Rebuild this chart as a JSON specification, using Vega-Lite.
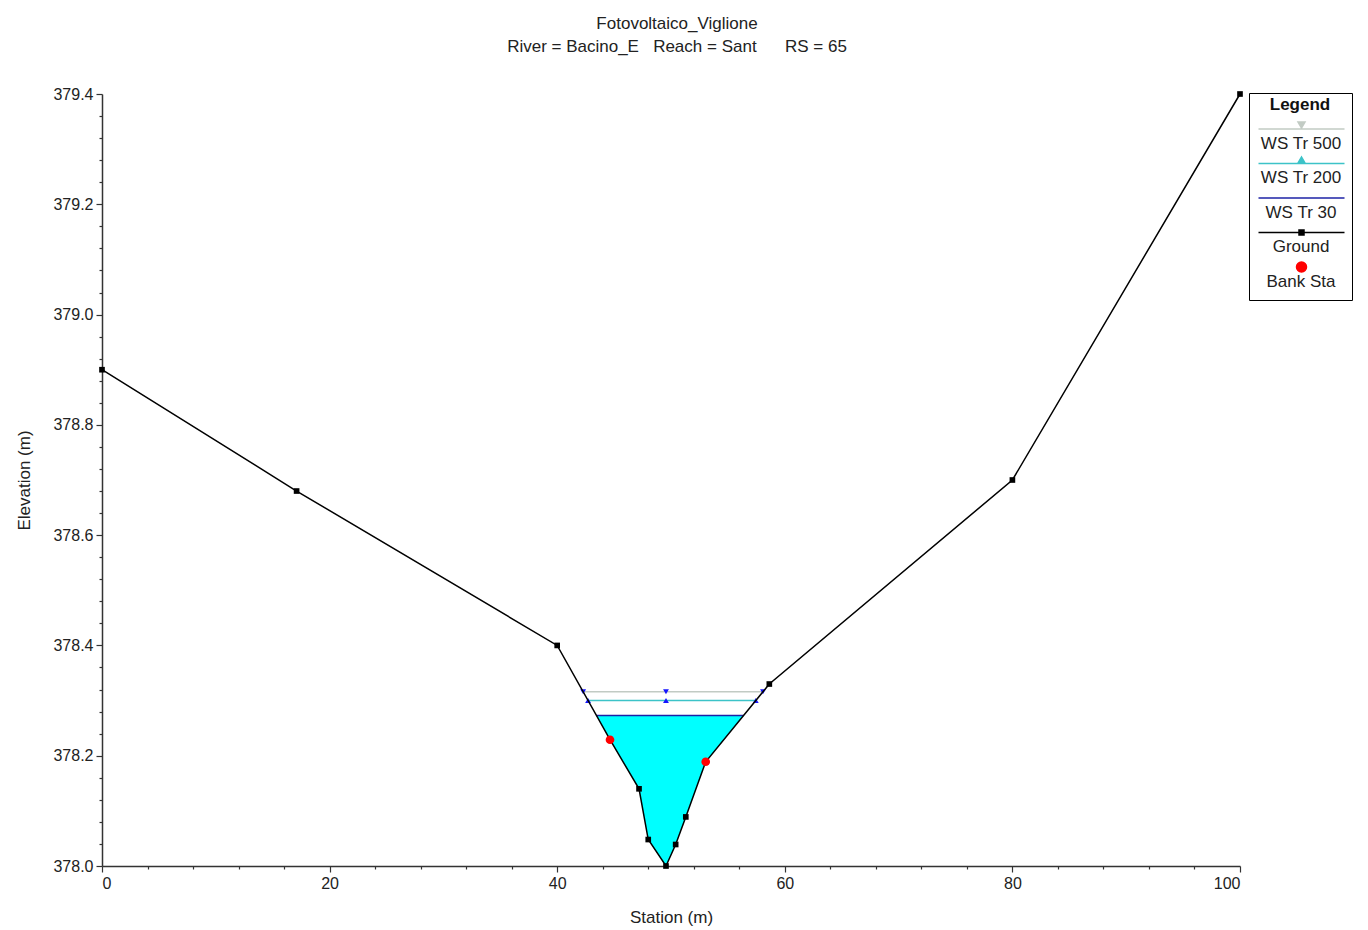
{
  "$schema": "https://vega.github.io/schema/vega-lite/v6.json",
  "width": 1138,
  "height": 772,
  "autosize": {"type": "none"},
  "padding": {"left": 102, "top": 94, "right": 128, "bottom": 64},
  "background": "white",
  "title": {
    "text": ["Fotovoltaico_Viglione", "River = Bacino_E\u00a0\u00a0\u00a0Reach = Sant\u00a0\u00a0\u00a0\u00a0\u00a0\u00a0RS = 65"],
    "fontSize": 17,
    "fontWeight": "normal",
    "font": "Liberation Sans",
    "color": "#222",
    "lineHeight": 23,
    "anchor": "middle",
    "dx": 6,
    "offset": 30
  },
  "config": {
    "view": {"stroke": null},
    "font": "Liberation Sans",
    "axis": {
      "labelFont": "Liberation Sans",
      "titleFont": "Liberation Sans",
      "labelFontSize": 16,
      "titleFontSize": 17,
      "titleFontWeight": "normal",
      "labelColor": "#222",
      "titleColor": "#222",
      "domainColor": "#333",
      "domainWidth": 1.5,
      "tickColor": "#333",
      "tickWidth": 1.2,
      "labelOverlap": false,
      "grid": false
    }
  },
  "resolve": {"axis": {"y": "independent"}},
  "datasets": {
    "ground": [
      {"station": 0, "elev": 378.90},
      {"station": 17.1, "elev": 378.68},
      {"station": 40.0, "elev": 378.40},
      {"station": 44.64, "elev": 378.229},
      {"station": 47.19, "elev": 378.14},
      {"station": 48.0, "elev": 378.048},
      {"station": 49.56, "elev": 378.0},
      {"station": 50.41, "elev": 378.039},
      {"station": 51.3, "elev": 378.089},
      {"station": 53.05, "elev": 378.189},
      {"station": 58.64, "elev": 378.33},
      {"station": 80.0, "elev": 378.70},
      {"station": 100.0, "elev": 379.40}
    ],
    "bank": [
      {"station": 44.64, "elev": 378.229},
      {"station": 53.05, "elev": 378.189}
    ],
    "water": [
      {"station": 43.45, "ws": 378.273, "ground": 378.273},
      {"station": 44.64, "ws": 378.273, "ground": 378.229},
      {"station": 47.19, "ws": 378.273, "ground": 378.14},
      {"station": 48.0, "ws": 378.273, "ground": 378.048},
      {"station": 49.56, "ws": 378.273, "ground": 378.0},
      {"station": 50.41, "ws": 378.273, "ground": 378.039},
      {"station": 51.3, "ws": 378.273, "ground": 378.089},
      {"station": 53.05, "ws": 378.273, "ground": 378.189},
      {"station": 56.38, "ws": 378.273, "ground": 378.273}
    ],
    "ws": [
      {"series": "WS Tr 500", "station": 42.28, "elev": 378.316},
      {"series": "WS Tr 500", "station": 49.56, "elev": 378.316},
      {"series": "WS Tr 500", "station": 58.08, "elev": 378.316},
      {"series": "WS Tr 200", "station": 42.71, "elev": 378.300},
      {"series": "WS Tr 200", "station": 49.56, "elev": 378.300},
      {"series": "WS Tr 200", "station": 57.45, "elev": 378.300},
      {"series": "WS Tr 30", "station": 43.45, "elev": 378.273},
      {"series": "WS Tr 30", "station": 56.38, "elev": 378.273}
    ]
  },
  "layer": [
    {
      "data": {"name": "water"},
      "mark": {"type": "area", "color": "#00ffff", "opacity": 1},
      "encoding": {
        "x": {"field": "station", "type": "quantitative", "scale": {"domain": [0, 100], "nice": false},
          "axis": {
            "title": "Station (m)",
            "values": [0,4,8,12,16,20,24,28,32,36,40,44,48,52,56,60,64,68,72,76,80,84,88,92,96,100],
            "labelExpr": "datum.value % 20 === 0 ? datum.label : ''",
            "tickSize": {"condition": {"test": "datum.value % 20 === 0", "value": 6}, "value": 3},
            "labelOverlap": false,
            "labelPadding": 3,
            "titlePadding": 18
          }
        },
        "y": {"field": "ws", "type": "quantitative", "scale": {"domain": [378, 379.4], "zero": false, "nice": false},
          "axis": {
            "orient": "left",
            "title": "Elevation (m)",
            "values": [378.0, 378.2, 378.4, 378.6, 378.8, 379.0, 379.2, 379.4],
            "format": ".1f",
            "tickSize": 6,
            "labelOverlap": false,
            "labelPadding": 3,
            "titlePadding": 19
          }
        },
        "y2": {"field": "ground"}
      }
    },
    {
      "data": {"name": "ws"},
      "mark": {"type": "line", "strokeWidth": 1.5},
      "encoding": {
        "x": {"field": "station", "type": "quantitative"},
        "y": {"field": "elev", "type": "quantitative",
          "axis": {
            "orient": "left",
            "title": null,
            "values": [378.04,378.08,378.12,378.16,378.24,378.28,378.32,378.36,378.44,378.48,378.52,378.56,378.64,378.68,378.72,378.76,378.84,378.88,378.92,378.96,379.04,379.08,379.12,379.16,379.24,379.28,379.32,379.36],
            "labels": false,
            "domain": false,
            "tickSize": 3
          }
        },
        "detail": {"field": "series"},
        "color": {
          "field": "series",
          "type": "nominal",
          "scale": {
            "domain": ["WS Tr 500", "WS Tr 200", "WS Tr 30", "Ground", "Bank Sta"],
            "range": ["#c2cbc4", "#3cc3c8", "#1c22a6", "#000000", "#ff0000"]
          },
          "legend": {
            "orient": "none",
            "legendX": 1147,
            "legendY": -1,
            "title": "Legend",
            "titleFont": "Liberation Sans",
            "titleFontSize": 17,
            "titleFontWeight": "bold",
            "titleColor": "#111",
            "titleAnchor": "middle",
            "titleAlign": "center",
            "titlePadding": 13,
            "strokeColor": "#000",
            "fillColor": "white",
            "padding": 4,
            "symbolSize": 100,
            "symbolStrokeWidth": 1.5,
            "labelFont": "Liberation Sans",
            "labelFontSize": 17,
            "labelColor": "#222",
            "labelAlign": "center",
            "labelBaseline": "top",
            "labelOffset": 31,
            "rowPadding": 0.5,
            "encode": {
              "symbols": {
                "update": {
                  "shape": {"signal": "datum.value === 'WS Tr 500' ? 'M8,-2.8M-0.6,-1.3H16.6M7.3,-2.7H8.7L8,-1.5Z' : datum.value === 'WS Tr 200' ? 'M8,-2.8M-0.6,-1.3H16.6M7.3,-1.4H8.7L8,-2.6Z' : datum.value === 'WS Tr 30' ? 'M8,-2.8M-0.6,-1.3H16.6' : datum.value === 'Ground' ? 'M8,-2.8M-0.6,-1.3H16.6M7.5,-1.8H8.5V-0.8H7.5Z' : 'M8,-2.8M8,3.9M9,-1.3A1,1 0 1,1 7,-1.3A1,1 0 1,1 9,-1.3Z'"},
                  "fill": {"signal": "datum.value === 'Ground' ? '#000' : datum.value === 'Bank Sta' ? '#ff0000' : '#1515ff'"},
                  "stroke": {"signal": "datum.value === 'WS Tr 500' ? '#c2cbc4' : datum.value === 'WS Tr 200' ? '#3cc3c8' : datum.value === 'WS Tr 30' ? '#1c22a6' : datum.value === 'Ground' ? '#000' : '#ff0000'"},
                  "opacity": {"value": 1},
                  "fillOpacity": {"value": 1},
                  "strokeWidth": {"value": 1.5}
                }
              }
            }
          }
        }
      }
    },
    {
      "data": {"name": "ws"},
      "transform": [{"filter": "datum.series !== 'WS Tr 30'"}],
      "mark": {"type": "point", "filled": true, "size": 34, "color": "#1515ff", "opacity": 1},
      "encoding": {
        "x": {"field": "station", "type": "quantitative"},
        "y": {"field": "elev", "type": "quantitative", "axis": null},
        "shape": {"field": "series", "type": "nominal", "scale": {"domain": ["WS Tr 500", "WS Tr 200"], "range": ["triangle-down", "triangle-up"]}, "legend": null}
      }
    },
    {
      "data": {"name": "ground"},
      "mark": {"type": "line", "strokeWidth": 1.5},
      "encoding": {
        "x": {"field": "station", "type": "quantitative"},
        "y": {"field": "elev", "type": "quantitative", "axis": null},
        "color": {"datum": "Ground"}
      }
    },
    {
      "data": {"name": "ground"},
      "mark": {"type": "square", "size": 32, "color": "#000", "opacity": 1},
      "encoding": {
        "x": {"field": "station", "type": "quantitative"},
        "y": {"field": "elev", "type": "quantitative", "axis": null}
      }
    },
    {
      "data": {"name": "bank"},
      "mark": {"type": "circle", "size": 75, "opacity": 1},
      "encoding": {
        "x": {"field": "station", "type": "quantitative"},
        "y": {"field": "elev", "type": "quantitative", "axis": null},
        "color": {"datum": "Bank Sta"}
      }
    }
  ]
}
